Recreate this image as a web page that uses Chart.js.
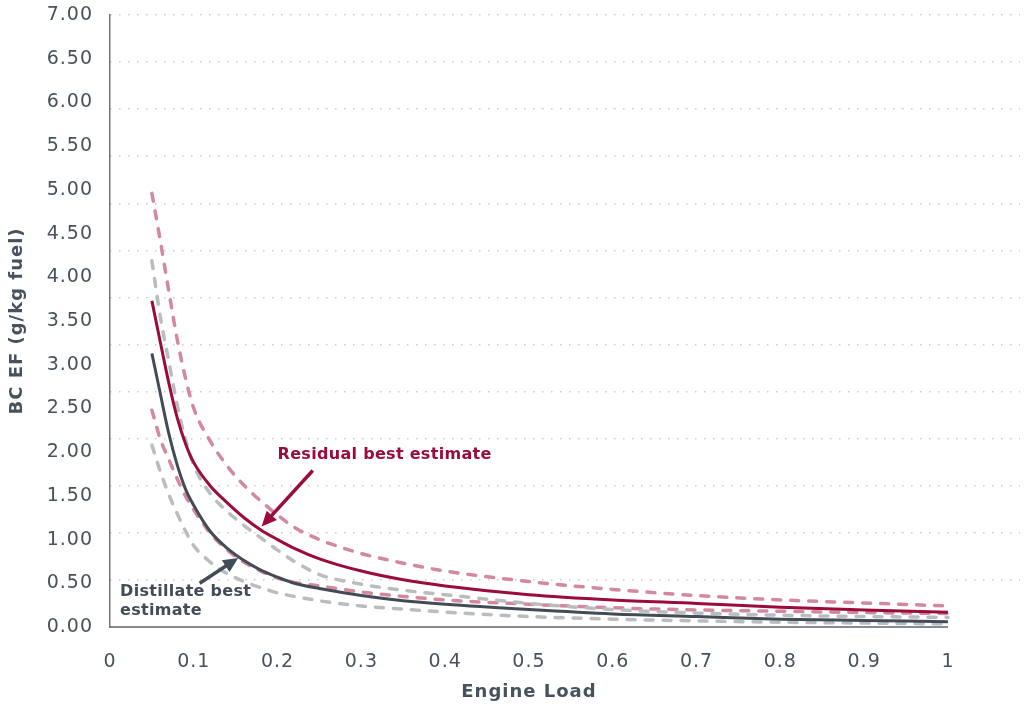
<!DOCTYPE html>
<html>
<head>
<meta charset="utf-8">
<script src="https://cdn.jsdelivr.net/npm/chart.js@4.4.1/dist/chart.umd.min.js"></script>
<style>
  html, body { margin: 0; padding: 0; background: #fff; }
  #wrap { width: 1033px; height: 704px; }
</style>
</head>
<body>
<div id="wrap"><canvas id="bcChart" width="1033" height="704"></canvas></div>
<script>
// Engine load (x) and BC emission factors
const engineLoad = [0.05, 0.06, 0.07, 0.08, 0.09, 0.1, 0.12, 0.14, 0.16, 0.18, 0.2, 0.22, 0.25, 0.3, 0.35, 0.4, 0.5, 0.6, 0.7, 0.8, 0.9, 1.0];
const residualBest  = [3.73, 3.26, 2.80, 2.40, 2.10, 1.88, 1.61, 1.42, 1.25, 1.11, 1.00, 0.90, 0.78, 0.64, 0.54, 0.47, 0.37, 0.31, 0.27, 0.225, 0.195, 0.17];
const residualHigh  = [4.96, 4.42, 3.85, 3.30, 2.85, 2.50, 2.12, 1.84, 1.62, 1.44, 1.28, 1.14, 1.00, 0.84, 0.73, 0.64, 0.52, 0.43, 0.36, 0.31, 0.275, 0.24];
const residualLow   = [2.48, 2.15, 1.92, 1.70, 1.50, 1.34, 1.07, 0.88, 0.74, 0.64, 0.56, 0.51, 0.47, 0.40, 0.35, 0.31, 0.26, 0.22, 0.195, 0.18, 0.165, 0.155];
const distillateBest = [3.13, 2.67, 2.22, 1.86, 1.58, 1.39, 1.09, 0.90, 0.76, 0.65, 0.57, 0.50, 0.44, 0.36, 0.30, 0.26, 0.20, 0.15, 0.12, 0.09, 0.075, 0.06];
const distillateHigh = [4.19, 3.55, 3.05, 2.55, 2.15, 1.85, 1.52, 1.32, 1.16, 1.02, 0.88, 0.75, 0.60, 0.49, 0.42, 0.37, 0.27, 0.20, 0.16, 0.135, 0.12, 0.11];
const distillateLow  = [2.08, 1.78, 1.52, 1.30, 1.10, 0.93, 0.74, 0.61, 0.52, 0.45, 0.39, 0.35, 0.30, 0.24, 0.205, 0.17, 0.12, 0.09, 0.07, 0.055, 0.045, 0.035];

const yTickStep = 0.5;
const yMax = 7;
const xTickStep = 0.1;

const RED = '#9b0b3b';
const PINK = '#d3889e';
const SLATE = '#434c56';
const GREY = '#b9bdc0';
const TEXT = '#47525c';
const FONT = "'DejaVu Sans', sans-serif";

function pts(values) {
    return engineLoad.map((x, i) => ({ x: x, y: values[i] }));
}

function solid(label, values, color, order) {
    return {
        label: label, data: pts(values), borderColor: color, borderWidth: 3,
        pointRadius: 0, cubicInterpolationMode: 'monotone', order: order, yAxisID: 'y'
    };
}

function dashed(label, values, color, order) {
    return {
        label: label, data: pts(values), borderColor: color, borderWidth: 3.5,
        borderDash: [8, 10], borderCapStyle: 'round',
        pointRadius: 0, cubicInterpolationMode: 'monotone', order: order, yAxisID: 'y'
    };
}

// arrow with filled head, drawn in data coordinates
function arrow(ctx, x, y, from, to, color) {
    const x1 = x.getPixelForValue(from[0]), y1 = y.getPixelForValue(from[1]);
    const x2 = x.getPixelForValue(to[0]), y2 = y.getPixelForValue(to[1]);
    const ang = Math.atan2(y2 - y1, x2 - x1);
    const head = 15, wing = 7;
    ctx.save();
    ctx.strokeStyle = color;
    ctx.fillStyle = color;
    ctx.lineWidth = 3.5;
    ctx.beginPath();
    ctx.moveTo(x1, y1);
    ctx.lineTo(x2 - Math.cos(ang) * head * 0.8, y2 - Math.sin(ang) * head * 0.8);
    ctx.stroke();
    ctx.beginPath();
    ctx.moveTo(x2, y2);
    ctx.lineTo(x2 - Math.cos(ang) * head + Math.sin(ang) * wing, y2 - Math.sin(ang) * head - Math.cos(ang) * wing);
    ctx.lineTo(x2 - Math.cos(ang) * head - Math.sin(ang) * wing, y2 - Math.sin(ang) * head + Math.cos(ang) * wing);
    ctx.closePath();
    ctx.fill();
    ctx.restore();
}

const extras = {
    id: 'extras',
    beforeDraw(chart) {
        // the figure's type is set wide
        chart.ctx.letterSpacing = '1px';
    },
    beforeDatasetsDraw(chart) {
        // bottom axis line only spans 0..1
        const { ctx, chartArea, scales: { x } } = chart;
        ctx.save();
        ctx.strokeStyle = '#5d656c';
        ctx.lineWidth = 1.5;
        ctx.beginPath();
        ctx.moveTo(x.getPixelForValue(0), chartArea.bottom);
        ctx.lineTo(x.getPixelForValue(1), chartArea.bottom);
        ctx.stroke();
        ctx.restore();
    },
    afterDatasetsDraw(chart) {
        const { ctx, scales: { x, y } } = chart;
        ctx.save();
        ctx.textBaseline = 'middle';
        ctx.textAlign = 'left';
        ctx.font = "bold 16px " + FONT;
        ctx.letterSpacing = '0.3px';
        ctx.fillStyle = RED;
        ctx.fillText('Residual best estimate', x.getPixelForValue(0.2), y.getPixelForValue(1.97));
        ctx.fillStyle = SLATE;
        ctx.fillText('Distillate best', x.getPixelForValue(0.012), y.getPixelForValue(0.40));
        ctx.fillText('estimate', x.getPixelForValue(0.012), y.getPixelForValue(0.19));
        // x title centred under 0..1
        ctx.textAlign = 'center';
        ctx.font = "bold 18px " + FONT;
        ctx.letterSpacing = '1px';
        ctx.fillStyle = TEXT;
        ctx.fillText('Engine Load', (x.getPixelForValue(0) + x.getPixelForValue(1)) / 2, 692);
        ctx.restore();
        arrow(ctx, x, y, [0.242, 1.79], [0.181, 1.15], RED);
        arrow(ctx, x, y, [0.107, 0.50], [0.153, 0.79], SLATE);
    }
};

const ctx = document.getElementById('bcChart').getContext('2d');
const bcChart = new Chart(ctx, {
    type: 'line',
    data: {
        datasets: [
            solid('Distillate best estimate', distillateBest, SLATE, 1),
            solid('Residual best estimate', residualBest, RED, 2),
            dashed('Distillate high', distillateHigh, GREY, 3),
            dashed('Distillate low', distillateLow, GREY, 4),
            dashed('Residual low', residualLow, PINK, 5),
            dashed('Residual high', residualHigh, PINK, 6)
        ]
    },
    options: {
        responsive: false,
        animation: false,
        layout: { padding: { top: 15, right: 13, left: 0, bottom: 0 } },
        plugins: {
            legend: { display: false },
            tooltip: { enabled: false }
        },
        scales: {
            x: {
                type: 'linear',
                min: 0,
                max: 1.086,
                afterFit: (s) => { s.height = 77; s.paddingLeft = 0; s.paddingRight = 0; },
                afterBuildTicks: (s) => {
                    s.ticks = [];
                    for (let i = 0; i <= 10; i++) s.ticks.push({ value: Math.round(i * xTickStep * 10) / 10 });
                },
                grid: { display: false, drawTicks: false },
                border: { display: false },
                ticks: {
                    padding: 24,
                    color: TEXT,
                    font: { family: FONT, size: 19 },
                    maxRotation: 0,
                    callback: (v) => String(v)
                }
            },
            y: {
                min: 0,
                max: yMax,
                afterFit: (s) => { s.width = 110; s.paddingTop = 0; s.paddingBottom = 0; },
                grid: { display: false, drawTicks: false },
                border: { display: true, color: '#6e767c', width: 1.5 },
                ticks: {
                    stepSize: yTickStep,
                    padding: 17,
                    color: TEXT,
                    font: { family: FONT, size: 19 },
                    callback: (v) => v.toFixed(2)
                },
                title: {
                    display: true,
                    text: 'BC EF (g/kg fuel)',
                    color: TEXT,
                    font: { family: FONT, size: 18, weight: 'bold' },
                    padding: { top: 7, bottom: 0 }
                }
            },
            // dotted background grid as drawn in the figure
            yg: {
                position: 'right',
                min: 0,
                max: 13,
                afterFit: (s) => { s.width = 0; s.paddingTop = 0; s.paddingBottom = 0; },
                ticks: { display: false, stepSize: 1 },
                border: { display: false, dash: [1.5, 7.5] },
                grid: {
                    drawTicks: false,
                    color: (c) => c.tick && c.tick.value === 0 ? 'rgba(0,0,0,0)' : '#c8cbce',
                    lineWidth: 1.5
                }
            }
        }
    },
    plugins: [extras]
});
</script>
</body>
</html>
